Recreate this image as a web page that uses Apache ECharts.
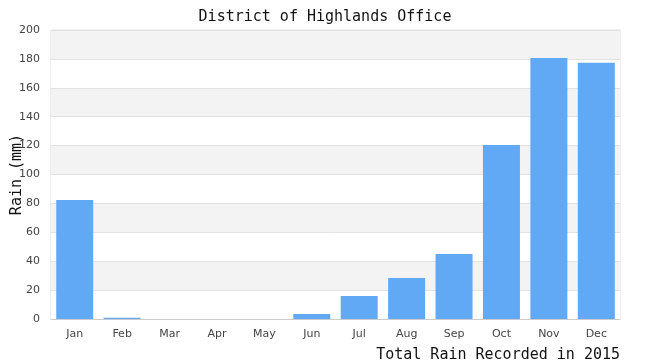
<!DOCTYPE html>
<html><head><meta charset="utf-8">
<script src="https://cdn.jsdelivr.net/npm/echarts@6/dist/echarts.min.js"></script>
<style>html,body{margin:0;padding:0;background:#fff}#c{width:650px;height:360px}</style>
</head><body><div id="c"></div>
<script>
const months = ['Jan','Feb','Mar','Apr','May','Jun','Jul','Aug','Sep','Oct','Nov','Dec'];
const rain = [82.3, 0.8, 0, 0, 0, 3.5, 16, 28.4, 45, 120.5, 180.6, 177.3];
const titleText = 'District of Highlands Office';
const yName = 'Rain (mm)';
const xName = 'Total Rain Recorded in 2015';

const chart = echarts.init(document.getElementById('c'));
const mono = 'DejaVu Sans Mono';
chart.setOption({
  animation: false,
  title: {text: titleText, left: 'center', top: 5,
    textStyle: {fontFamily: mono, fontSize: 15, fontWeight: 'normal', color: '#111'}},
  grid: {left: 51, right: 30, top: 30, bottom: 41, show: true, borderColor: '#ddd', borderWidth: 1,
    containLabel: false, outerBoundsMode: 'none'},
  xAxis: {type: 'category', data: months,
    name: xName, nameLocation: 'end', nameGap: 0, nameMoveOverlap: false,
    nameTextStyle: {fontFamily: mono, fontSize: 15, color: '#111', align: 'right', verticalAlign: 'top', padding: [29, 0, 0, 0]},
    axisLine: {lineStyle: {color: '#ccc'}}, axisTick: {show: false},
    axisLabel: {color: '#444', fontSize: 11, fontFamily: 'DejaVu Sans', margin: 10}},
  yAxis: {type: 'value', min: 0, max: 200, interval: 20,
    name: yName, nameLocation: 'middle', nameGap: 26, nameRotate: 90, nameMoveOverlap: false,
    nameTextStyle: {fontFamily: mono, fontSize: 15, color: '#111'},
    axisLine: {show: false}, axisTick: {show: false},
    axisLabel: {color: '#444', fontSize: 11, fontFamily: 'DejaVu Sans', margin: 11},
    splitLine: {lineStyle: {color: '#e2e2e2'}},
    splitArea: {show: true, areaStyle: {color: ['#ffffff', '#f3f3f3']}}},
  series: [{type: 'bar', data: rain, barWidth: '78%', itemStyle: {color: '#61a8f5'}}]
});
</script></body></html>
